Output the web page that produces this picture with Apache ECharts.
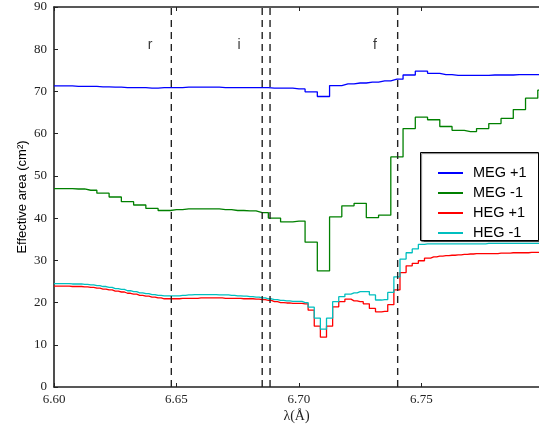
<!DOCTYPE html>
<html><head><meta charset="utf-8">
<script src="https://cdn.jsdelivr.net/npm/echarts@6/dist/echarts.min.js"></script>
<style>html,body{margin:0;padding:0;background:#fff}#c{width:539px;height:428px}</style>
</head><body><div id="c"></div>
<script>
// bin grids (bin centres)
const megStart = 6.600, megBinWidth = 0.005;
const hegStart = 6.600, hegBinWidth = 0.0025;

// effective area values per bin (cm^2)
const megPlus1 = [71.3, 71.3, 71.2, 71.2, 71.1, 71.0, 70.9, 70.9, 70.8, 70.9,
  70.9, 71.0, 71.0, 71.0, 70.9, 70.9, 70.9, 70.9, 70.8, 70.8,
  70.6, 69.9, 68.8, 71.4, 71.8, 72.0, 72.2, 72.5, 72.9, 73.9,
  74.8, 74.3, 74.0, 73.8, 73.8, 73.8, 73.9, 73.9, 74.0, 74.0, 74.0];
const megMinus1 = [47.0, 47.0, 46.9, 46.6, 45.9, 45.0, 43.9, 43.1, 42.3, 41.8,
  42.0, 42.2, 42.2, 42.2, 42.0, 41.8, 41.7, 41.3, 40.0, 39.1,
  39.3, 34.3, 27.5, 40.3, 42.9, 43.5, 40.1, 40.7, 54.5, 61.2,
  63.9, 63.3, 61.7, 60.8, 60.5, 61.2, 62.4, 63.6, 65.7, 68.4, 70.3];
const hegPlus1 = [23.9, 23.9, 23.9, 23.8, 23.8, 23.7, 23.6, 23.4, 23.2, 23.0,
  22.7, 22.5, 22.2, 22.0, 21.7, 21.5, 21.3, 21.1, 20.9, 20.9,
  20.9, 21.0, 21.0, 21.0, 21.1, 21.1, 21.1, 21.1, 21.0, 21.0,
  21.0, 20.9, 20.9, 20.8, 20.7, 20.5, 20.2, 20.0, 19.9, 19.8,
  19.8, 19.7, 18.2, 14.4, 11.8, 14.4, 19.0, 20.2, 20.8, 20.4,
  20.2, 19.7, 18.6, 17.8, 17.9, 19.5, 23.0, 27.1, 28.7, 29.3,
  29.9, 30.5, 30.8, 31.0, 31.1, 31.2, 31.3, 31.4, 31.5, 31.6,
  31.6, 31.6, 31.6, 31.7, 31.7, 31.8, 31.8, 31.8, 31.9, 31.9, 31.9];
const hegMinus1 = [24.5, 24.5, 24.5, 24.4, 24.4, 24.3, 24.2, 24.0, 23.8, 23.6,
  23.3, 23.1, 22.8, 22.6, 22.3, 22.1, 21.9, 21.7, 21.6, 21.6,
  21.6, 21.7, 21.8, 21.9, 21.9, 21.9, 21.9, 21.8, 21.8, 21.7,
  21.6, 21.5, 21.4, 21.3, 21.1, 20.9, 20.7, 20.5, 20.4, 20.3,
  20.3, 20.0, 18.9, 16.3, 13.7, 16.3, 20.2, 21.4, 22.0, 22.3,
  22.6, 22.6, 21.8, 20.6, 20.7, 22.4, 26.1, 30.3, 31.8, 32.7,
  33.8, 33.9, 33.9, 33.9, 33.9, 33.9, 33.9, 33.9, 33.9, 33.9,
  33.9, 34.0, 34.0, 34.0, 34.0, 34.0, 34.0, 34.0, 34.0, 34.0, 34.0];

const seriesNames = ['MEG +1', 'MEG -1', 'HEG +1', 'HEG -1'];
const seriesColors = ['#0000ff', '#008000', '#ff0000', '#00bfbf'];

// line positions (r, i, i, f) and their tags
const lineWaves = [6.6479, 6.6850, 6.6882, 6.7403];
const tagNames = ['r', 'i', 'f'];
const tagWaves = [6.6392, 6.6755, 6.7310];
const tagLevel = 81;

const xTicks = [6.60, 6.65, 6.70, 6.75];
const xMin = 6.60, xMax = 6.798, xStep = 0.05;
const yMin = 0, yMax = 90, yStep = 10;

const megWave = megPlus1.map((_, i) => +(megStart + i * megBinWidth).toFixed(5));
const hegWave = hegPlus1.map((_, i) => +(hegStart + i * hegBinWidth).toFixed(5));

function pairs(w, v) { return v.map((y, i) => [w[i], y]); }

const curves = [
  [megWave, megPlus1], [megWave, megMinus1], [hegWave, hegPlus1], [hegWave, hegMinus1]
].map((p, k) => ({
  name: seriesNames[k], type: 'line', step: 'middle', showSymbol: false, symbol: 'none',
  data: pairs(p[0], p[1]), color: seriesColors[k],
  lineStyle: { color: seriesColors[k], width: 1.3 }, z: 2 + k * 0.1, silent: true, animation: false
}));

const dashed = lineWaves.map(w => ({
  type: 'line', showSymbol: false, symbol: 'none', silent: true, animation: false,
  data: [[w, yMin], [w, yMax]],
  lineStyle: { color: '#222', width: 1.4, type: [7, 5] }, z: 3
}));

const tags = {
  type: 'scatter', symbolSize: 0, silent: true, animation: false,
  data: tagNames.map((n, i) => ({ name: n, value: [tagWaves[i], tagLevel] })),
  label: { show: true, position: 'inside', formatter: p => p.name,
    fontFamily: 'Liberation Sans', fontSize: 14, color: '#000' }, z: 4
};

const serifLabel = { fontFamily: 'Liberation Serif', fontSize: 13, color: '#222' };
const isTick = v => xTicks.some(t => Math.abs(t - v) < 1e-6);

const option = {
  animation: false,
  backgroundColor: '#fff',
  grid: { left: 54, right: 0, top: 7, bottom: 41 },
  xAxis: [{
    type: 'value', min: xMin, max: xMax, interval: xStep, position: 'bottom',
    name: 'λ(Å)', nameLocation: 'middle', nameGap: 22, nameMoveOverlap: false,
    nameTextStyle: { fontFamily: 'Liberation Serif', fontSize: 14, color: '#222' },
    axisLine: { show: true, onZero: false, lineStyle: { color: '#222', width: 1.6 } },
    axisTick: { show: true, inside: true, length: 4, lineStyle: { color: '#222' } },
    axisLabel: Object.assign({ margin: 6, showMaxLabel: false,
      formatter: v => isTick(v) ? v.toFixed(2) : '' }, serifLabel),
    splitLine: { show: false }
  }, {
    type: 'value', min: xMin, max: xMax, interval: xStep, position: 'top',
    axisLine: { show: true, onZero: false, lineStyle: { color: '#222', width: 1.6 } },
    axisTick: { show: true, inside: true, length: 4, lineStyle: { color: '#222' } },
    axisLabel: { show: false }, splitLine: { show: false }
  }],
  yAxis: {
    type: 'value', min: yMin, max: yMax, interval: yStep,
    name: 'Effective area (cm²)', nameLocation: 'middle', nameGap: 25, nameRotate: 90,
    nameMoveOverlap: false,
    nameTextStyle: { fontFamily: 'Liberation Sans', fontSize: 13, color: '#000' },
    axisLine: { show: true, onZero: false, lineStyle: { color: '#222', width: 1.6 } },
    axisTick: { show: true, inside: true, length: 4, lineStyle: { color: '#222' } },
    axisLabel: Object.assign({ margin: 7 }, serifLabel),
    splitLine: { show: false }
  },
  legend: {
    data: seriesNames, left: 433, top: 158, orient: 'vertical', itemGap: 0,
    itemWidth: 25, itemHeight: 2, icon: 'rect', selectedMode: false,
    textStyle: { fontFamily: 'Liberation Sans', fontSize: 14.5, color: '#000', lineHeight: 20, padding: [0, 0, 0, 5] },
    z: 6
  },
  graphic: [{
    type: 'rect', left: 420, top: 152, z: 5,
    shape: { width: 118, height: 88 },
    style: { fill: '#fff', stroke: '#000', lineWidth: 1,
      shadowColor: 'rgba(0,0,0,0.55)', shadowOffsetX: 1, shadowOffsetY: 1, shadowBlur: 1 }
  }],
  series: curves.concat(dashed, [tags])
};

const chart = echarts.init(document.getElementById('c'), null, { renderer: 'canvas' });
chart.setOption(option);
</script>
</body></html>
